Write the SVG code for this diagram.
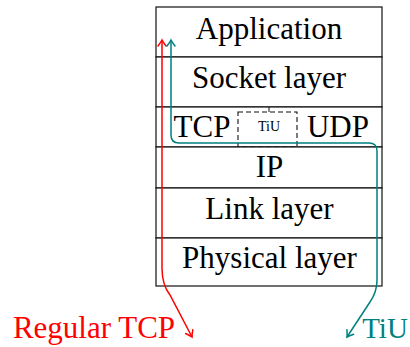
<svg xmlns="http://www.w3.org/2000/svg" width="410" height="347" viewBox="0 0 410 347">
<style>
.lbl{font-family:"Liberation Serif","Times New Roman",serif;font-size:31px;fill:#000;text-anchor:middle}
.row{fill:#fff;stroke:#111;stroke-width:1.2}
.dash{fill:none;stroke:#111;stroke-width:1.1;stroke-dasharray:5,3}
</style>
<defs>
<marker id="ar" markerUnits="userSpaceOnUse" markerWidth="12" markerHeight="12" refX="0" refY="0" orient="auto-start-reverse" overflow="visible">
<path d="M-6,-4 Q-2,-1 0,0 Q-2,1 -6,4" fill="none" stroke="#ff0000" stroke-width="1.5" stroke-linecap="round"/>
</marker>
<marker id="at" markerUnits="userSpaceOnUse" markerWidth="12" markerHeight="12" refX="0" refY="0" orient="auto-start-reverse" overflow="visible">
<path d="M-6,-4 Q-2,-1 0,0 Q-2,1 -6,4" fill="none" stroke="#008080" stroke-width="1.5" stroke-linecap="round"/>
</marker>
</defs>
<g id="application"><rect class="row" x="156" y="7" width="226" height="50"/><text class="lbl" x="269" y="39">Application</text></g>
<g id="socket"><rect class="row" x="156" y="57" width="226" height="50"/><text class="lbl" x="269" y="88">Socket layer</text></g>
<g id="transport"><rect class="row" x="156" y="107" width="226" height="40"/><text class="lbl" x="202" y="137">TCP</text><text class="lbl" x="338" y="137">UDP</text></g>
<g id="tiu"><line x1="269" y1="107" x2="269" y2="112" stroke="#111" stroke-width="1"/><rect class="dash" x="238" y="112" width="59" height="35"/><text class="lbl" x="269" y="131" style="font-size:14px">TiU</text></g>
<g id="ip"><rect class="row" x="156" y="147" width="226" height="41"/><text class="lbl" x="269.5" y="177">IP</text></g>
<g id="link"><rect class="row" x="156" y="188" width="226" height="50"/><text class="lbl" x="269.5" y="219">Link layer</text></g>
<g id="physical"><rect class="row" x="156" y="238" width="226" height="48"/><text class="lbl" x="269.5" y="268">Physical layer</text></g>
<g id="connectors" fill="none" stroke-width="1.5">
<path d="M162,40 V268 Q162,285 170,295 L192,337" stroke="#ff0000" marker-start="url(#ar)" marker-end="url(#ar)"/>
<path d="M171,40 V135 Q171,143 179,143 H369 Q377,143 377,151 V280 Q377,292 370,302 L347,337" stroke="#008080" marker-start="url(#at)" marker-end="url(#at)"/>
</g>
<g id="label-regular"><text class="lbl" x="94" y="338" style="fill:#ff0000">Regular TCP</text></g>
<g id="label-tiu"><text class="lbl" x="385" y="338" style="fill:#008080;font-size:29px">TiU</text></g>
</svg>
